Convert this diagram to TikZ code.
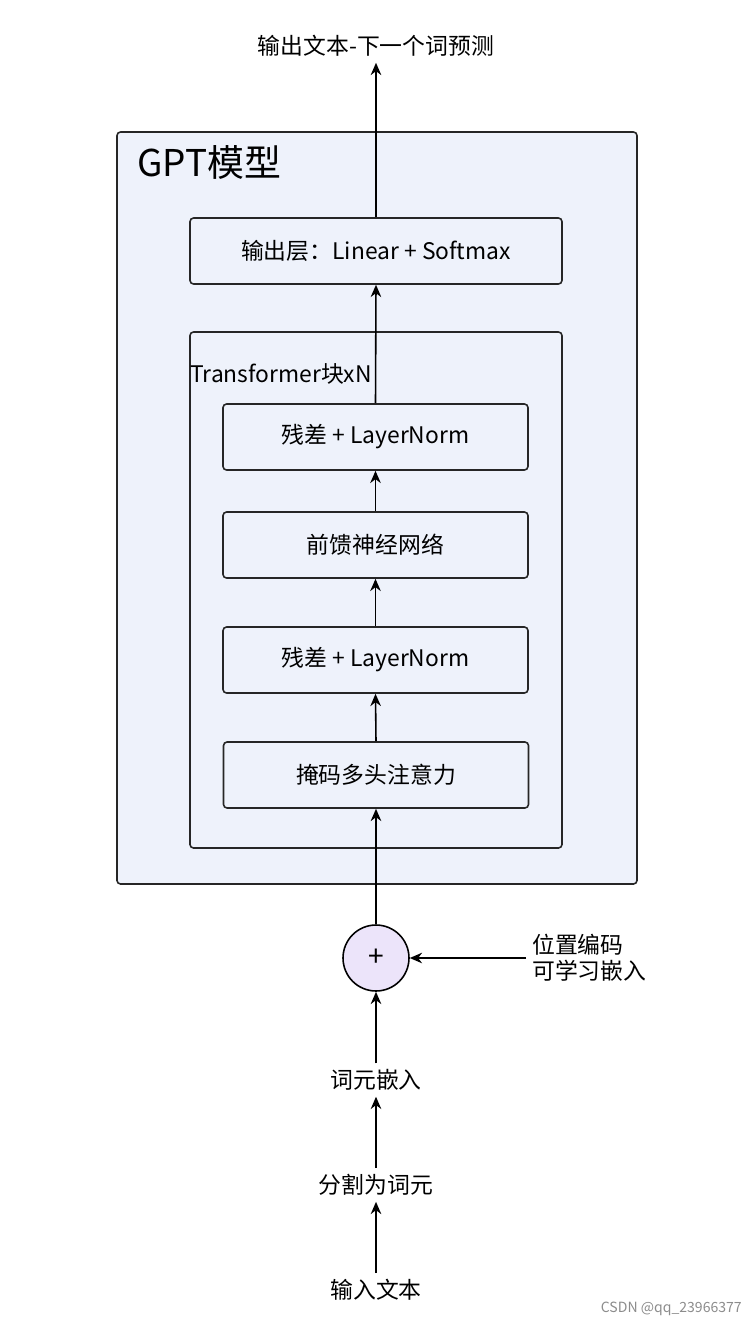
\documentclass[tikz,border=0pt]{standalone}
\usepackage{fontspec}
\setmainfont{Noto Sans CJK SC}
\usetikzlibrary{arrows.meta}
\definecolor{bgblue}{HTML}{EEF2FB}
\definecolor{circ}{HTML}{ECE4FA}
\begin{document}
\begin{tikzpicture}[x=0.02cm,y=-0.02cm,
  box/.style={draw=black!85,line width=0.9pt,rounded corners=2pt,fill=bgblue},
  inner/.style={draw=black!85,line width=0.9pt,rounded corners=2pt,fill=bgblue,minimum width=6.1cm,minimum height=1.32cm,font=\fontsize{13}{15}\selectfont},
  arr/.style={-{Stealth[length=7pt,width=6pt]},line width=0.9pt},
  lbl/.style={font=\fontsize{13}{15}\selectfont}]
\useasboundingbox (0,0) rectangle (754,1326);
\node[lbl] (out) at (376,46) {输出文本-下一个词预测};
\draw[box] (117,132) rectangle (637,884);
\node[anchor=west,font=\fontsize{21}{24}\selectfont] (gpt) at (131,162) {GPT模型};
\node[inner,minimum width=7.44cm] (ol) at (376,251) {输出层：Linear + Softmax};
\draw[box] (190,332) rectangle (562,848);
\node[anchor=west,lbl,inner sep=0pt] (tl) at (190,374) {Transformer块xN};
\node[inner] (r1) at (375.5,437) {残差 + LayerNorm};
\node[inner] (ffn) at (375.5,545) {前馈神经网络};
\node[inner] (r2) at (375.5,660) {残差 + LayerNorm};
\node[inner] (att) at (376,775) {掩码多头注意力};
\node[circle,draw=black,line width=0.9pt,fill=circ,minimum size=1.32cm,inner sep=0pt,font=\fontsize{16}{18}\selectfont] (plus) at (376,958) {+};
\node[anchor=west,lbl,align=left] (pos) at (526,958) {位置编码\\可学习嵌入};
\node[lbl] (emb) at (376,1080) {词元嵌入};
\node[lbl] (tok) at (376,1185) {分割为词元};
\node[lbl] (inp) at (376,1290) {输入文本};
\node[anchor=south east,font=\fontsize{8}{9}\selectfont,text=black!45] (wm) at (748,1322) {CSDN @qq\_23966377};
\draw[arr] (ol.north) -- (out.south);
\draw[arr] (r1.north) -- (ol.south);
\draw[arr] (ffn.north) -- (r1.south);
\draw[arr] (r2.north) -- (ffn.south);
\draw[arr] (att.north) -- (r2.south);
\draw[arr] (plus.north) -- (att.south);
\draw[arr] (pos.west) -- (plus.east);
\draw[arr] (emb.north) -- (plus.south);
\draw[arr] (tok.north) -- (emb.south);
\draw[arr] (inp.north) -- (tok.south);
\end{tikzpicture}
\end{document}
